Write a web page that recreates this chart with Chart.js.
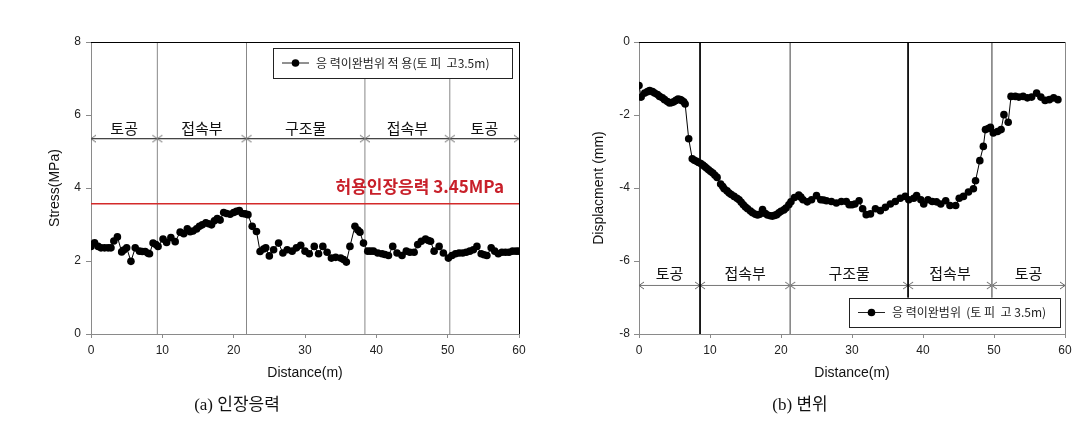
<!DOCTYPE html>
<html>
<head>
<meta charset="utf-8">
<script src="https://cdn.jsdelivr.net/npm/chart.js@4.4.0/dist/chart.umd.min.js"></script>
<style>
  body { margin: 0; background: #fff; width: 1089px; height: 425px; overflow: hidden; position: relative; }
  .wrap { position: absolute; top: 0; height: 425px; }
  #wrapA { left: 0; width: 545px; }
  #wrapB { left: 545px; width: 544px; }
  .cap { position: absolute; top: 394px; width: 200px; text-align: center; line-height: 22px;
         font-family: "Liberation Serif", "Noto Sans CJK KR", serif; font-size: 17px; color: #111; white-space: nowrap; }
</style>
</head>
<body>
<div class="wrap" id="wrapA"><canvas id="chartA" width="545" height="425"></canvas></div>
<div class="wrap" id="wrapB"><canvas id="chartB" width="544" height="425"></canvas></div>
<div class="cap" style="left:137px">(a) 인장응력</div>
<div class="cap" style="left:700px">(b) 변위</div>
<script>
// --- data ---
const sectionNames = ['토공', '접속부', '구조물', '접속부', '토공'];

const stressBounds = [0, 9.3, 21.8, 38.4, 50.3, 60];
const stressDividerTop = [8, 8, 7.0, 7.0];
const stressLimit = 3.57;
const stressArrowY = 5.35;
const stressLabelY = 5.64;

const stressDist = [0, 0.5, 1.0, 1.4, 1.9, 2.4, 2.8, 3.2, 3.7, 4.3, 4.6, 5.0, 5.6, 6.2, 6.8, 7.2, 7.6, 8.0, 8.2, 8.7,
  9.1, 9.4, 10.1, 10.6, 11.2, 11.8, 12.5, 13.0, 13.5, 13.9, 14.3, 14.8, 15.2, 15.6, 16.1, 16.5, 16.9, 17.3, 17.7, 18.1,
  18.6, 19.0, 19.5, 20.0, 20.4, 20.8, 21.2, 21.6, 22.0, 22.6, 23.2, 23.7, 24.2, 24.5, 25.0, 25.6, 26.3, 26.9, 27.5, 28.2,
  28.8, 29.4, 30.0, 30.6, 31.3, 31.9, 32.5, 33.1, 33.7, 34.3, 35.0, 35.4, 35.8, 36.3, 37.0, 37.4, 37.7, 38.2, 38.8, 39.2,
  39.6, 40.2, 40.8, 41.2, 41.7, 42.3, 42.9, 43.6, 44.2, 44.7, 45.3, 45.8, 46.3, 46.9, 47.3, 47.6, 48.1, 48.8, 49.4, 50.1,
  50.6, 51.1, 51.6, 52.1, 52.6, 53.1, 53.6, 54.1, 54.7, 55.1, 55.5, 56.1, 56.6, 57.1, 57.6, 58.1, 58.6, 59.1, 59.6, 60.0];
const stressVal = [2.40, 2.50, 2.40, 2.36, 2.36, 2.36, 2.36, 2.55, 2.66, 2.25, 2.30, 2.36, 1.99, 2.36, 2.27, 2.26, 2.26, 2.21, 2.20, 2.49,
  2.45, 2.40, 2.60, 2.51, 2.64, 2.53, 2.79, 2.75, 2.88, 2.80, 2.82, 2.88, 2.95, 2.99, 3.05, 3.02, 2.99, 3.10, 3.16, 3.12,
  3.33, 3.30, 3.28, 3.33, 3.36, 3.38, 3.30, 3.29, 3.27, 2.95, 2.81, 2.26, 2.33, 2.36, 2.14, 2.31, 2.49, 2.22, 2.31, 2.27,
  2.36, 2.43, 2.27, 2.20, 2.40, 2.20, 2.40, 2.24, 2.08, 2.10, 2.08, 2.04, 1.97, 2.40, 2.95, 2.85, 2.79, 2.49, 2.27, 2.27,
  2.27, 2.22, 2.20, 2.18, 2.15, 2.40, 2.22, 2.15, 2.27, 2.24, 2.24, 2.45, 2.54, 2.60, 2.56, 2.54, 2.27, 2.40, 2.22, 2.08,
  2.15, 2.20, 2.22, 2.22, 2.24, 2.27, 2.31, 2.40, 2.20, 2.17, 2.15, 2.36, 2.27, 2.20, 2.24, 2.24, 2.24, 2.27, 2.27, 2.27];

const dispBounds = [0, 8.6, 21.3, 37.9, 49.7, 60];
const dispDividerBottom = [-8, -8, -7.0, -7.0];
const dispArrowY = -6.67;
const dispLabelY = -6.35;

const dispDist = [0, 0.3, 0.8, 1.2, 1.5, 1.9, 2.2, 2.6, 2.9, 3.3, 3.6, 4.0, 4.3, 4.6, 4.9, 5.2, 5.5, 5.8, 6.0, 6.3,
  6.5, 7.0, 7.5, 7.8, 8.1, 8.4, 8.7, 9.0, 9.25, 9.5, 9.8, 10.1, 10.4, 10.7, 11.0, 11.5, 11.8, 12.0, 12.4, 12.7,
  13.0, 13.4, 13.8, 14.1, 14.4, 14.7, 15.0, 15.3, 15.7, 16.0, 16.4, 16.7, 17.0, 17.4, 17.8, 18.1, 18.5, 18.8, 19.1, 19.4,
  19.7, 20.0, 20.4, 20.7, 21.1, 21.4, 21.9, 22.5, 22.8, 23.1, 23.7, 24.3, 25.0, 25.6, 26.0, 26.4, 27.1, 27.8, 28.5, 29.2,
  29.6, 30.0, 30.4, 31.0, 31.5, 32.0, 32.6, 33.3, 34.0, 34.7, 35.4, 36.1, 36.8, 37.5, 38.0, 38.7, 39.1, 39.7, 40.1, 40.7,
  41.3, 41.9, 42.5, 43.2, 43.8, 44.6, 45.1, 45.7, 46.4, 47.1, 47.4, 48.0, 48.5, 48.8, 49.2, 49.5, 49.9, 50.5, 51.0, 51.4,
  52.0, 52.4, 53.0, 53.5, 54.1, 54.7, 55.3, 56.0, 56.6, 57.2, 57.8, 58.4, 59.0];
const dispVal = [-1.19, -1.51, -1.40, -1.36, -1.33, -1.36, -1.40, -1.44, -1.49, -1.53, -1.58, -1.63, -1.67, -1.66, -1.64, -1.60, -1.56, -1.58, -1.60, -1.64,
  -1.70, -2.65, -3.20, -3.24, -3.27, -3.30, -3.33, -3.37, -3.41, -3.45, -3.50, -3.55, -3.59, -3.65, -3.71, -3.89, -3.96, -4.02, -4.08, -4.14,
  -4.18, -4.23, -4.28, -4.32, -4.39, -4.46, -4.52, -4.57, -4.63, -4.68, -4.72, -4.74, -4.72, -4.59, -4.70, -4.74, -4.76, -4.77, -4.75, -4.73,
  -4.68, -4.64, -4.60, -4.55, -4.46, -4.38, -4.26, -4.19, -4.25, -4.32, -4.38, -4.32, -4.21, -4.32, -4.33, -4.35, -4.37, -4.41, -4.37, -4.37,
  -4.46, -4.46, -4.44, -4.35, -4.57, -4.73, -4.71, -4.57, -4.62, -4.53, -4.44, -4.37, -4.28, -4.23, -4.32, -4.28, -4.21, -4.32, -4.44, -4.32,
  -4.37, -4.38, -4.44, -4.35, -4.48, -4.48, -4.28, -4.23, -4.11, -4.02, -3.80, -3.25, -2.86, -2.40, -2.37, -2.34, -2.49, -2.45, -2.40, -1.99,
  -2.20, -1.49, -1.49, -1.51, -1.49, -1.53, -1.51, -1.40, -1.51, -1.60, -1.58, -1.53, -1.58];

const xTicks = { min: 0, max: 60, step: 10 };

// --- helpers ---
const TICK_FONT = { family: 'Liberation Sans', size: 12 };
const TITLE_FONT = { family: 'Liberation Sans', size: 14 };
const AXIS_GRAY = '#8a8a8a';

function points(xs, ys) {
  return xs.map((x, i) => ({ x, y: ys[i] }));
}

// open arrow head, tip in the centre of the canvas
function chevron(dir, color) {
  const c = document.createElement('canvas');
  c.width = 12; c.height = 9;
  const g = c.getContext('2d');
  g.strokeStyle = color;
  g.lineWidth = 1;
  g.beginPath();
  if (dir < 0) { g.moveTo(11, 1); g.lineTo(6, 4.5); g.lineTo(11, 8); }
  else { g.moveTo(1, 1); g.lineTo(6, 4.5); g.lineTo(1, 8); }
  g.stroke();
  return c;
}

function lineSet(data, color, width, extra) {
  return Object.assign({
    data, showLine: true, borderColor: color, borderWidth: width,
    pointRadius: 0, pointHoverRadius: 0, order: 5
  }, extra || {});
}

function arrowSets(bounds, yVal, lineColor, headColor) {
  const left = chevron(-1, headColor), right = chevron(1, headColor);
  const sets = [];
  for (let i = 0; i < bounds.length - 1; i++) {
    sets.push(lineSet([{ x: bounds[i], y: yVal }, { x: bounds[i + 1], y: yVal }], lineColor, 1,
      { pointRadius: 4, pointStyle: [left, right], clip: false }));
  }
  return sets;
}

const framePlugin = {
  id: 'frame',
  afterDraw(chart, args, opts) {
    const { ctx, chartArea: a } = chart;
    ctx.save();
    ctx.lineWidth = 1;
    ctx.strokeStyle = opts.top;
    ctx.beginPath(); ctx.moveTo(a.left, a.top + 0.5); ctx.lineTo(a.right + 1, a.top + 0.5); ctx.stroke();
    ctx.strokeStyle = opts.right;
    ctx.beginPath(); ctx.moveTo(a.right + 0.5, a.top); ctx.lineTo(a.right + 0.5, a.bottom); ctx.stroke();
    ctx.restore();
  }
};

const textPlugin = {
  id: 'texts',
  afterDatasetsDraw(chart, args, opts) {
    const { ctx, scales: { x, y } } = chart;
    ctx.save();
    ctx.textBaseline = 'middle';
    ctx.textAlign = 'center';
    ctx.fillStyle = '#111';
    ctx.font = '15px "Noto Sans CJK KR"';
    opts.names.forEach((name, i) => {
      const mid = (opts.bounds[i] + opts.bounds[i + 1]) / 2;
      ctx.fillText(name, x.getPixelForValue(mid), y.getPixelForValue(opts.labelY));
    });
    if (opts.note) {
      ctx.font = 'bold 17px "Noto Sans CJK KR"';
      ctx.fillStyle = '#c8202a';
      ctx.textAlign = 'right';
      ctx.fillText(opts.note.text, x.getPixelForValue(opts.note.x), y.getPixelForValue(opts.note.y));
    }
    // legend box
    const b = opts.legend;
    ctx.fillStyle = '#fff';
    ctx.fillRect(b.x, b.y, b.w, b.h);
    ctx.strokeStyle = '#222';
    ctx.lineWidth = 1;
    ctx.strokeRect(b.x + 0.5, b.y + 0.5, b.w, b.h);
    const cy = b.y + b.h / 2;
    ctx.beginPath(); ctx.moveTo(b.x + b.s0, cy); ctx.lineTo(b.x + b.s1, cy); ctx.stroke();
    ctx.fillStyle = '#000';
    ctx.beginPath(); ctx.arc(b.x + (b.s0 + b.s1) / 2, cy, 3.8, 0, Math.PI * 2); ctx.fill();
    ctx.font = '12px "Noto Sans CJK KR"';
    ctx.textAlign = 'left';
    ctx.fillStyle = '#222';
    ctx.fillText(b.text, b.x + b.t, cy);
    ctx.restore();
  }
};

function makeChart(id, cfg) {
  return new Chart(document.getElementById(id), {
    type: 'scatter',
    data: { datasets: cfg.datasets },
    plugins: [framePlugin, textPlugin],
    options: {
      responsive: false,
      animation: false,
      events: [],
      layout: { padding: cfg.padding },
      plugins: {
        legend: { display: false },
        tooltip: { enabled: false },
        frame: cfg.frame,
        texts: cfg.texts
      },
      scales: {
        x: {
          type: 'linear', min: xTicks.min, max: xTicks.max,
          afterFit: s => { s.height = 48; },
          border: { color: AXIS_GRAY },
          grid: { drawOnChartArea: false, color: AXIS_GRAY, tickLength: 4 },
          ticks: { stepSize: xTicks.step, font: TICK_FONT, color: '#222', padding: 5, maxRotation: 0 },
          title: { display: true, text: 'Distance(m)', font: TITLE_FONT, color: '#111', padding: 0 }
        },
        y: {
          min: cfg.yMin, max: cfg.yMax,
          afterFit: s => { s.width = cfg.yWidth; },
          border: { color: AXIS_GRAY },
          grid: { drawOnChartArea: false, color: AXIS_GRAY, tickLength: 5 },
          ticks: { stepSize: 2, font: TICK_FONT, color: '#222', padding: cfg.yPad },
          title: { display: true, text: cfg.yTitle, font: TITLE_FONT, color: '#111', padding: 0 }
        }
      }
    }
  });
}

const dotStyle = { pointRadius: 3.8, pointBackgroundColor: '#000', pointBorderWidth: 0, order: 0 };

// --- (a) stress ---
const stressSets = [
  lineSet(points(stressDist, stressVal), '#000', 1, dotStyle),
  lineSet([{ x: 0, y: stressLimit }, { x: 60, y: stressLimit }], '#d42a2a', 1.5, { order: 2 })
];
stressDividerTop.forEach((top, i) => {
  stressSets.push(lineSet([{ x: stressBounds[i + 1], y: 0 }, { x: stressBounds[i + 1], y: top }], '#888', 1));
});
stressSets.push(...arrowSets(stressBounds, stressArrowY, '#111', '#666'));

makeChart('chartA', {
  datasets: stressSets,
  padding: { left: 47, top: 42, right: 26, bottom: 43 },
  yMin: 0, yMax: 8, yWidth: 44, yPad: 5,
  yTitle: 'Stress(MPa)',
  frame: { top: '#000', right: '#000' },
  texts: {
    names: sectionNames, bounds: stressBounds, labelY: stressLabelY,
    note: { text: '허용인장응력 3.45MPa', x: 57.9, y: 4.04 },
    legend: { x: 273, y: 48, w: 239, h: 30, s0: 9, s1: 36, t: 43, text: '응 력이완범위 적 용(토 피  고3.5m)' }
  }
});

// --- (b) displacement ---
const dispColors = ['#000', '#888', '#000', '#888'];
const dispSets = [
  lineSet(points(dispDist, dispVal), '#000', 1, dotStyle)
];
dispDividerBottom.forEach((bottom, i) => {
  dispSets.push(lineSet([{ x: dispBounds[i + 1], y: 0 }, { x: dispBounds[i + 1], y: bottom }], dispColors[i], 1));
});
dispSets.push(...arrowSets(dispBounds, dispArrowY, '#777', '#666'));

makeChart('chartB', {
  datasets: dispSets,
  padding: { left: 46, top: 42, right: 24, bottom: 43 },
  yMin: -8, yMax: 0, yWidth: 48, yPad: 4,
  yTitle: 'Displacment (mm)',
  frame: { top: '#000', right: '#888' },
  texts: {
    names: sectionNames, bounds: dispBounds, labelY: dispLabelY,
    legend: { x: 304, y: 298, w: 211, h: 29, s0: 9, s1: 36, t: 43, text: '응 력이완범위  (토 피  고 3.5m)' }
  }
});
</script>
</body>
</html>
